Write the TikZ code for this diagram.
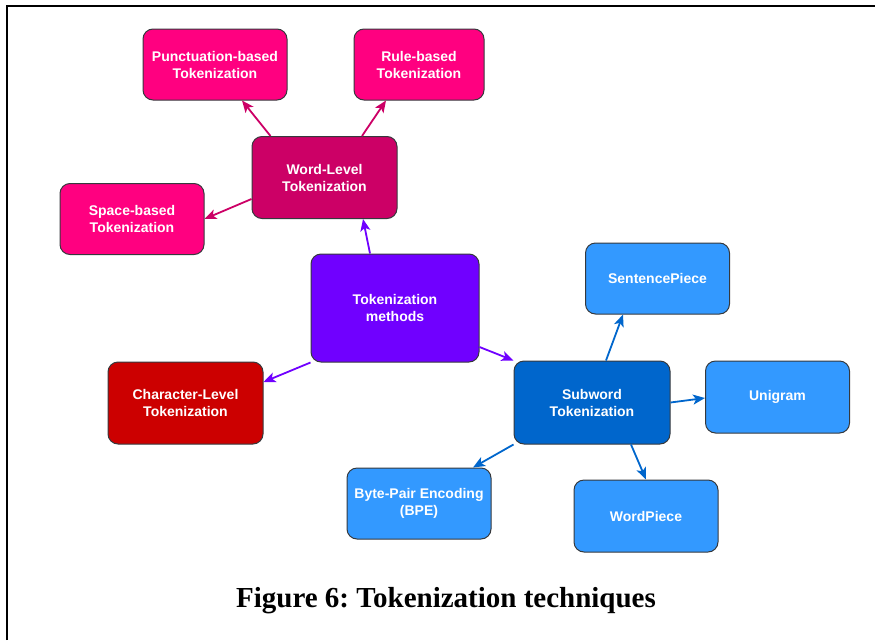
\documentclass[tikz,border=0pt]{standalone}
\usepackage{fontspec}
\setmainfont{Liberation Serif}
\setsansfont{Liberation Sans}
\usetikzlibrary{arrows.meta,positioning}
\definecolor{rim}{HTML}{36393D}
\definecolor{rose}{HTML}{FF0080}
\definecolor{berry}{HTML}{CC0066}
\definecolor{grape}{HTML}{7000FF}
\definecolor{crimson}{HTML}{CC0000}
\definecolor{ocean}{HTML}{0066CC}
\definecolor{sky}{HTML}{3399FF}
\tikzset{tokbox/.style={draw=rim,line width=1pt,rounded corners=10pt,text=white,align=center,font=\sffamily\bfseries\fontsize{14}{17}\selectfont,minimum width=144pt,minimum height=71pt,inner sep=2pt},link/.style={line width=1.8pt,-{Stealth[length=12pt,width=10pt,inset=3pt]}}}
\begin{document}
\begin{tikzpicture}[x=1pt,y=-1pt]
\useasboundingbox (0,0) rectangle (875,640);
\draw[line width=2pt] (7,640) -- (7,6) -- (875,6);
\node[tokbox,fill=rose] (punct) at (215,64.5) {Punctuation-based\\Tokenization};
\node[tokbox,fill=rose,minimum width=130pt] (rulebased) at (419,64.5) {Rule-based\\Tokenization};
\node[tokbox,fill=berry,minimum width=145pt,minimum height=82pt] (wordlvl) at (324.5,177.5) {Word-Level\\Tokenization};
\node[tokbox,fill=rose] (spacebased) at (132,219) {Space-based\\Tokenization};
\node[tokbox,fill=grape,minimum width=168pt,minimum height=108pt] (methods) at (395,308) {Tokenization\\methods};
\node[tokbox,fill=crimson,minimum width=155pt,minimum height=82pt] (charlvl) at (185.5,403) {Character-Level\\Tokenization};
\node[tokbox,fill=ocean,minimum width=156pt,minimum height=83pt] (subword) at (592,402.5) {Subword\\Tokenization};
\node[tokbox,fill=sky] (sentpiece) at (657.5,278.5) {SentencePiece};
\node[tokbox,fill=sky,minimum height=72pt] (unigram) at (777.5,397) {Unigram};
\node[tokbox,fill=sky,minimum height=72pt] (wordpiece) at (646,516) {WordPiece};
\node[tokbox,fill=sky] (bpe) at (419,503.5) {Byte-Pair Encoding\\(BPE)};
\node[font=\bfseries\fontsize{29}{34}\selectfont,inner sep=0pt,anchor=base] (caption) at (446,607) {Figure 6:\ Tokenization techniques};
\draw[link,berry] ([xshift=-54pt]wordlvl.north) -- ([xshift=27pt]punct.south);
\draw[link,berry] ([xshift=37.5pt]wordlvl.north) -- ([xshift=-33pt]rulebased.south);
\draw[link,berry] ([yshift=-21.5pt]wordlvl.west) -- (spacebased.east);
\draw[link,grape] ([xshift=-25pt]methods.north) -- ([xshift=38.5pt]wordlvl.south);
\draw[link,grape] (methods.south west) -- ([yshift=21pt]charlvl.east);
\draw[link,grape] ([yshift=-39pt]methods.east) -- (subword.north west);
\draw[link,ocean] ([xshift=14pt]subword.north) -- ([xshift=-34.5pt]sentpiece.south);
\draw[link,ocean] (subword.east) -- ([yshift=-1pt]unigram.west);
\draw[link,ocean] ([xshift=39pt]subword.south) -- (wordpiece.north);
\draw[link,ocean] (subword.south west) -- ([xshift=54pt]bpe.north);
\end{tikzpicture}
\end{document}
